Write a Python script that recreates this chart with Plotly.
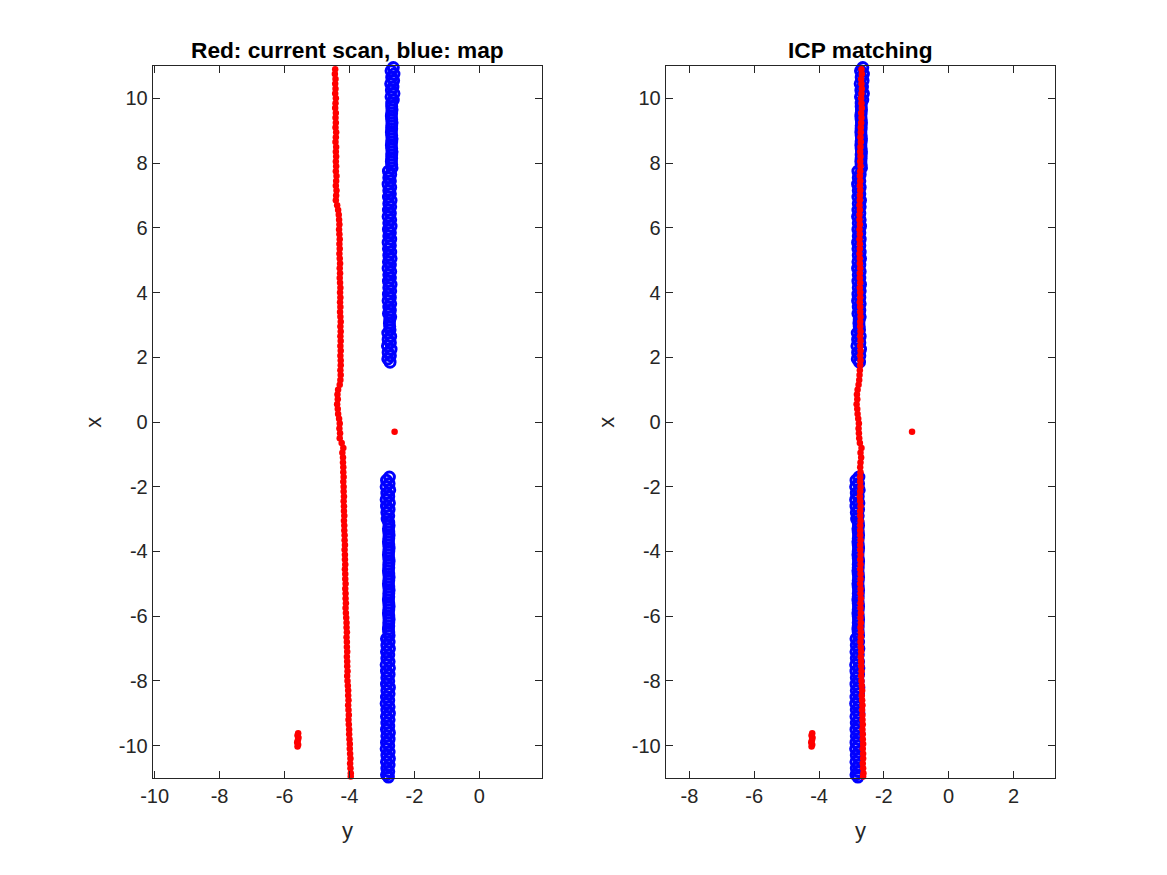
import plotly.graph_objects as go

# ---------------- data ----------------
# map points (blue circles): x = along-track coordinate, y = lateral coordinate
map_x_upper = [10.95, 10.85, 10.75, 10.65, 10.55, 10.45, 10.35, 10.25, 10.15, 10.05,
               9.95, 9.85, 9.75, 9.65, 9.55, 9.45, 9.35, 9.25, 9.15, 9.05,
               8.95, 8.85, 8.75, 8.65, 8.55, 8.45, 8.35, 8.25, 8.15, 8.05,
               7.95, 7.85, 7.75, 7.65, 7.55, 7.45, 7.35, 7.25, 7.15, 7.05,
               6.95, 6.85, 6.75, 6.65, 6.55, 6.45, 6.35, 6.25, 6.15, 6.05,
               5.95, 5.85, 5.75, 5.65, 5.55, 5.45, 5.35, 5.25, 5.15, 5.05,
               4.95, 4.85, 4.75, 4.65, 4.55, 4.45, 4.35, 4.25, 4.15, 4.05,
               3.95, 3.85, 3.75, 3.65, 3.55, 3.45, 3.35, 3.25, 3.15, 3.05,
               2.95, 2.85, 2.75, 2.65, 2.55, 2.45, 2.35, 2.25, 2.15, 2.05,
               1.95, 1.85]
map_y_upper = [-2.65, -2.72, -2.63, -2.70, -2.64, -2.73, -2.66, -2.71, -2.63, -2.72,
               -2.65, -2.70,
               -2.70, -2.69, -2.70, -2.71, -2.70, -2.69, -2.70, -2.70, -2.71, -2.70,
               -2.69, -2.70, -2.71, -2.70, -2.69, -2.70, -2.70, -2.71, -2.70, -2.69,
               -2.80, -2.73, -2.79, -2.74, -2.81, -2.73, -2.79, -2.74, -2.80, -2.72,
               -2.79, -2.73, -2.80, -2.74, -2.81, -2.73, -2.79, -2.72, -2.80, -2.74,
               -2.79, -2.73, -2.81, -2.74, -2.80, -2.73, -2.79, -2.72, -2.80, -2.74,
               -2.81, -2.73, -2.79, -2.74, -2.80, -2.72, -2.79, -2.73, -2.80, -2.74,
               -2.81, -2.73, -2.79, -2.74, -2.80, -2.73,
               -2.76, -2.77, -2.76, -2.75,
               -2.82, -2.73, -2.81, -2.74, -2.83, -2.72, -2.81, -2.74, -2.82, -2.75]
map_x_lower = [-1.70, -1.80, -1.90, -2.00, -2.10, -2.20, -2.30, -2.40, -2.50, -2.60,
               -2.70, -2.80, -2.90, -3.00,
               -3.10, -3.20, -3.30, -3.40, -3.50, -3.60, -3.70, -3.80, -3.90, -4.00,
               -4.10, -4.20, -4.30, -4.40, -4.50, -4.60, -4.70, -4.80, -4.90, -5.00,
               -5.10, -5.20, -5.30, -5.40, -5.50, -5.60, -5.70, -5.80, -5.90, -6.00,
               -6.10, -6.20, -6.30, -6.40, -6.50, -6.60,
               -6.70, -6.80, -6.90, -7.00, -7.10, -7.20, -7.30, -7.40, -7.50, -7.60,
               -7.70, -7.80, -7.90, -8.00, -8.10, -8.20, -8.30, -8.40, -8.50, -8.60,
               -8.70, -8.80, -8.90, -9.00, -9.10, -9.20, -9.30, -9.40, -9.50, -9.60,
               -9.70, -9.80, -9.90, -10.00, -10.10, -10.20, -10.30, -10.40, -10.50, -10.60,
               -10.70, -10.80, -10.90, -10.97]
map_y_lower = [-2.77, -2.86, -2.78, -2.87, -2.76, -2.85, -2.79, -2.87, -2.77, -2.86,
               -2.78, -2.85, -2.79, -2.84,
               -2.79, -2.78, -2.80, -2.79, -2.78, -2.79, -2.80, -2.79, -2.78, -2.79,
               -2.80, -2.79, -2.78, -2.79, -2.79, -2.80, -2.79, -2.78, -2.79, -2.80,
               -2.79, -2.78, -2.79, -2.79, -2.80, -2.79, -2.78, -2.79, -2.80, -2.79,
               -2.78, -2.79, -2.79, -2.80, -2.79, -2.78,
               -2.86, -2.78, -2.85, -2.77, -2.86, -2.79, -2.85, -2.78, -2.87, -2.77,
               -2.86, -2.78, -2.85, -2.79, -2.86, -2.77, -2.85, -2.78, -2.86, -2.79,
               -2.87, -2.78, -2.85, -2.77, -2.86, -2.78, -2.85, -2.79, -2.86, -2.77,
               -2.85, -2.78, -2.86, -2.79, -2.87, -2.78, -2.85, -2.77, -2.86, -2.78,
               -2.85, -2.79, -2.86, -2.80]

# current scan (red dots): along-track coordinate shared by raw scan and ICP result
scan_x = [10.90, 10.75, 10.60, 10.45, 10.30, 10.15, 10.00, 9.85, 9.70, 9.55,
          9.40, 9.25, 9.10, 8.95, 8.80, 8.65, 8.50, 8.35, 8.20, 8.05,
          7.90, 7.75, 7.60, 7.45, 7.30, 7.15, 7.00, 6.85,
          6.70, 6.55, 6.40,
          6.25, 6.10, 5.95, 5.80, 5.65, 5.50, 5.35, 5.20, 5.05, 4.90,
          4.75, 4.60, 4.45, 4.30, 4.15, 4.00, 3.85, 3.70, 3.55, 3.40,
          3.25, 3.10, 2.95, 2.80, 2.65, 2.50, 2.35, 2.20, 2.05, 1.90,
          1.75, 1.60, 1.45, 1.30, 1.15,
          1.00, 0.85, 0.70, 0.55, 0.40, 0.25,
          0.10, -0.05, -0.20, -0.35, -0.50,
          -0.65, -0.80, -0.95, -1.10,
          -1.25, -1.40, -1.55, -1.70, -1.85, -2.00, -2.15, -2.30, -2.45, -2.60,
          -2.75, -2.90, -3.05, -3.20, -3.35,
          -3.50, -3.65, -3.80, -3.95, -4.10, -4.25, -4.40, -4.55, -4.70, -4.85,
          -5.00, -5.15, -5.30, -5.45, -5.60, -5.75, -5.90,
          -6.05, -6.20, -6.35, -6.50, -6.65, -6.80, -6.95, -7.10, -7.25, -7.40,
          -7.55, -7.70, -7.85, -8.00,
          -8.15, -8.30, -8.45, -8.60, -8.75, -8.90, -9.05, -9.20, -9.35, -9.50,
          -9.65,
          -9.80, -9.95, -10.10, -10.25, -10.40, -10.55, -10.70, -10.85, -10.95]
scan_y = [-4.44, -4.45, -4.43, -4.44, -4.43, -4.44, -4.42, -4.43, -4.44, -4.42,
          -4.43, -4.42, -4.43, -4.41, -4.42, -4.43, -4.41, -4.42, -4.41, -4.42,
          -4.41, -4.42, -4.40, -4.41, -4.42, -4.40, -4.41, -4.42,
          -4.38, -4.35, -4.33,
          -4.32, -4.31, -4.32, -4.31, -4.30, -4.31, -4.30, -4.31, -4.30, -4.29,
          -4.30, -4.29, -4.30, -4.29, -4.28, -4.29, -4.28, -4.29, -4.28, -4.29,
          -4.28, -4.27, -4.28, -4.27, -4.28, -4.27, -4.28, -4.27, -4.28, -4.27,
          -4.27, -4.28, -4.27, -4.28, -4.30,
          -4.35, -4.37, -4.36, -4.38, -4.36, -4.35,
          -4.32, -4.30, -4.31, -4.29, -4.30,
          -4.24, -4.19, -4.22, -4.20,
          -4.20, -4.19, -4.19, -4.18, -4.19, -4.18, -4.18, -4.17, -4.18, -4.17,
          -4.17, -4.16, -4.17, -4.16, -4.16,
          -4.15, -4.15, -4.14, -4.15, -4.14, -4.14, -4.13, -4.14, -4.13, -4.13,
          -4.12, -4.13, -4.12, -4.12, -4.11, -4.12, -4.11,
          -4.10, -4.09, -4.09, -4.08, -4.09, -4.08, -4.08, -4.07, -4.08, -4.07,
          -4.07, -4.06, -4.07, -4.06,
          -4.05, -4.04, -4.04, -4.03, -4.04, -4.03, -4.02, -4.03, -4.02, -4.01,
          -4.01,
          -4.00, -3.99, -3.99, -3.98, -3.97, -3.98, -3.97, -3.96, -3.96]
icp_y = [-2.69, -2.68, -2.70, -2.69, -2.68, -2.69, -2.70, -2.69, -2.68, -2.70,
         -2.69, -2.70, -2.71, -2.71, -2.72, -2.71, -2.72, -2.73, -2.72, -2.73,
         -2.72, -2.73, -2.74, -2.73, -2.74, -2.73, -2.74, -2.74,
         -2.75, -2.74, -2.75,
         -2.75, -2.74, -2.75, -2.74, -2.75, -2.74, -2.74, -2.75, -2.74, -2.74,
         -2.73, -2.74, -2.74, -2.73, -2.74, -2.73, -2.73, -2.74, -2.73, -2.73,
         -2.72, -2.73, -2.73, -2.72, -2.73, -2.72, -2.73, -2.72, -2.73, -2.72,
         -2.73, -2.74, -2.75, -2.76, -2.78,
         -2.81, -2.83, -2.82, -2.84, -2.82, -2.81,
         -2.79, -2.77, -2.78, -2.77, -2.76,
         -2.74, -2.69, -2.72, -2.70,
         -2.72, -2.73, -2.72, -2.73, -2.73, -2.72, -2.73, -2.74, -2.73, -2.72,
         -2.73, -2.73, -2.72, -2.73, -2.73,
         -2.73, -2.72, -2.73, -2.73, -2.72, -2.73, -2.72, -2.73, -2.72, -2.72,
         -2.73, -2.72, -2.72, -2.71, -2.72, -2.72, -2.71,
         -2.72, -2.71, -2.72, -2.71, -2.71, -2.72, -2.71, -2.70, -2.71, -2.70,
         -2.70, -2.69, -2.70, -2.69,
         -2.68, -2.67, -2.68, -2.67, -2.66, -2.67, -2.66, -2.66, -2.65, -2.66,
         -2.65,
         -2.65, -2.64, -2.65, -2.64, -2.64, -2.65, -2.64, -2.63, -2.64]

# small cluster and single stray return of the scan
cluster_x = [-9.62, -9.69, -9.76, -9.83, -9.90, -9.97, -10.03]
cluster_scan_y = [-5.58, -5.60, -5.57, -5.59, -5.61, -5.58, -5.60]
cluster_icp_y = [-4.21, -4.23, -4.20, -4.22, -4.24, -4.21, -4.23]
stray_x = [-0.30]
stray_scan_y = [-2.61]
stray_icp_y = [-1.13]

titles = ["Red: current scan, blue: map", "ICP matching"]
x_ticks = [-10, -8, -6, -4, -2, 0, 2]
x_tick_text = ["-10", "-8", "-6", "-4", "-2", "0", "2"]
y_ticks = [-10, -8, -6, -4, -2, 0, 2, 4, 6, 8, 10]
y_tick_text = ["-10", "-8", "-6", "-4", "-2", "0", "2", "4", "6", "8", "10"]

assert len(map_x_upper) == len(map_y_upper)
assert len(map_x_lower) == len(map_y_lower)
assert len(scan_x) == len(scan_y) == len(icp_y)

# ---------------- figure ----------------
W, H = 1167, 875
AX = "#262626"
FONT = "Liberation Sans"
BLUE = "rgb(0,0,255)"
RED = "rgb(255,0,0)"

# screen-pixel -> paper fraction (the page body adds an 8 px offset)
OFF_X, PW = 8.0, 1167.0
OFF_Y = 8.0


def fx(p):
    return (p - OFF_X) / PW


def fy(p):
    return 1 - (p - OFF_Y) / H


map_x = map_x_upper + map_x_lower
map_y = map_y_upper + map_y_lower
red_left_x = scan_x + cluster_x + stray_x
red_left_y = scan_y + cluster_scan_y + stray_scan_y
red_right_x = scan_x + cluster_x + stray_x
red_right_y = icp_y + cluster_icp_y + stray_icp_y

fig = go.Figure()
for i, (rx, ry) in enumerate([(red_left_y, red_left_x), (red_right_y, red_right_x)]):
    xa = "x" if i == 0 else "x2"
    ya = "y" if i == 0 else "y2"
    fig.add_trace(go.Scatter(
        x=map_y, y=map_x, mode="markers", xaxis=xa, yaxis=ya,
        marker=dict(symbol="circle-open", size=10, color=BLUE,
                    line=dict(width=3, color=BLUE)),
        cliponaxis=False, showlegend=False, hoverinfo="skip"))
    fig.add_trace(go.Scatter(
        x=rx, y=ry, mode="markers", xaxis=xa, yaxis=ya,
        marker=dict(symbol="circle", size=6.5, color=RED, line=dict(width=0)),
        cliponaxis=False, showlegend=False, hoverinfo="skip"))

ax_common = dict(showgrid=False, zeroline=False, showline=True, mirror="ticks",
                 linecolor=AX, linewidth=1, ticks="inside", ticklen=7,
                 tickcolor=AX, tickwidth=1, automargin=False,
                 tickfont=dict(family=FONT, size=20, color=AX))

yl = [fy(778), fy(66)]
fig.update_layout(
    width=W, height=H, autosize=False,
    margin=dict(l=0, r=0, t=0, b=0),
    paper_bgcolor="white", plot_bgcolor="white",
    xaxis=dict(domain=[fx(152.7), fx(541.7)], range=[-10.06, 1.92],
               tickvals=x_ticks, ticktext=x_tick_text, anchor="y", **ax_common),
    yaxis=dict(domain=yl, range=[-11, 11], tickvals=y_ticks, ticktext=y_tick_text,
               anchor="x", **ax_common),
    xaxis2=dict(domain=[fx(665.7), fx(1055)], range=[-8.73, 3.28],
                tickvals=x_ticks, ticktext=x_tick_text, anchor="y2", **ax_common),
    yaxis2=dict(domain=yl, range=[-11, 11], tickvals=y_ticks, ticktext=y_tick_text,
                anchor="x2", **ax_common),
)

annots = []
centers = [(152.7 + 541.7) / 2, (665.7 + 1055) / 2]
lefts = [152.7, 665.7]
for c, l, t in zip(centers, lefts, titles):
    annots.append(dict(text=t, x=fx(c), y=fy(50), xref="paper", yref="paper",
                       xanchor="center", yanchor="middle", showarrow=False,
                       font=dict(family=FONT, size=22.7, color="black", weight="bold")))
    annots.append(dict(text="y", x=fx(c), y=fy(830), xref="paper", yref="paper",
                       xanchor="center", yanchor="middle", showarrow=False,
                       font=dict(family=FONT, size=22, color=AX)))
    annots.append(dict(text="x", x=fx(l - 59), y=fy(422), xref="paper", yref="paper",
                       xanchor="center", yanchor="middle", showarrow=False, textangle=-90,
                       font=dict(family=FONT, size=22, color=AX)))
fig.update_layout(annotations=annots)

fig.write_html("out.html")
